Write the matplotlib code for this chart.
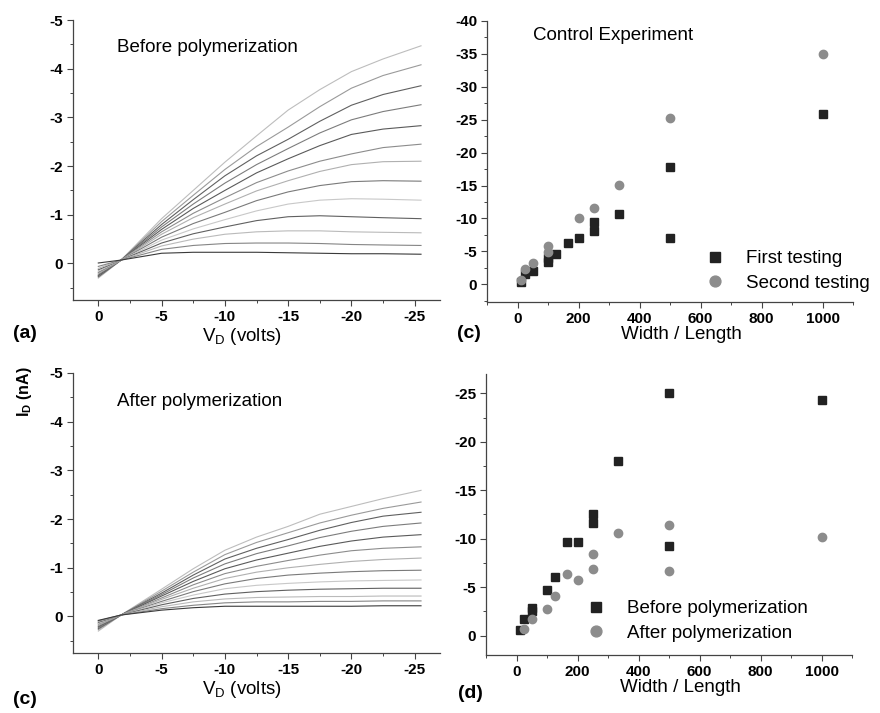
import matplotlib
matplotlib.use("Agg")
import matplotlib.pyplot as plt
from matplotlib.ticker import MultipleLocator

plt.rcParams['font.family'] = ['Liberation Sans', 'DejaVu Sans']
plt.rcParams['font.weight'] = 'bold'
plt.rcParams['axes.unicode_minus'] = False
plt.rcParams['mathtext.fontset'] = 'custom'
plt.rcParams['mathtext.rm'] = 'Liberation Sans'
plt.rcParams['mathtext.default'] = 'regular'

# drain voltage sample points (volts)
vd = [0, -1.8, -5, -7.5, -10, -12.5, -15, -17.5, -20, -22.5, -25.5]

# I_D (nA) output curves, one list per gate voltage
before_curves = [
    [0.30, -0.07, -0.92, -1.50, -2.08, -2.62, -3.15, -3.57, -3.94, -4.20, -4.47],
    [0.28, -0.07, -0.86, -1.40, -1.93, -2.40, -2.80, -3.22, -3.60, -3.86, -4.08],
    [0.27, -0.07, -0.80, -1.31, -1.80, -2.21, -2.55, -2.92, -3.25, -3.47, -3.65],
    [0.25, -0.07, -0.75, -1.22, -1.65, -2.03, -2.36, -2.68, -2.95, -3.12, -3.26],
    [0.24, -0.07, -0.70, -1.13, -1.50, -1.86, -2.15, -2.42, -2.65, -2.76, -2.83],
    [0.22, -0.07, -0.65, -1.03, -1.35, -1.66, -1.90, -2.10, -2.25, -2.38, -2.45],
    [0.20, -0.07, -0.60, -0.94, -1.22, -1.49, -1.70, -1.89, -2.03, -2.09, -2.10],
    [0.18, -0.07, -0.54, -0.82, -1.05, -1.29, -1.47, -1.60, -1.68, -1.70, -1.69],
    [0.16, -0.07, -0.48, -0.71, -0.90, -1.08, -1.22, -1.30, -1.33, -1.32, -1.30],
    [0.13, -0.07, -0.42, -0.61, -0.75, -0.88, -0.96, -0.98, -0.96, -0.94, -0.92],
    [0.10, -0.07, -0.36, -0.50, -0.60, -0.65, -0.67, -0.67, -0.65, -0.64, -0.63],
    [0.06, -0.07, -0.29, -0.37, -0.41, -0.42, -0.42, -0.41, -0.39, -0.38, -0.37],
    [-0.01, -0.07, -0.21, -0.23, -0.23, -0.23, -0.22, -0.21, -0.20, -0.20, -0.19],
]

after_curves = [
    [0.30, -0.03, -0.56, -0.98, -1.36, -1.63, -1.85, -2.10, -2.26, -2.42, -2.59],
    [0.27, -0.03, -0.52, -0.91, -1.27, -1.52, -1.72, -1.92, -2.08, -2.22, -2.35],
    [0.25, -0.03, -0.48, -0.85, -1.18, -1.40, -1.58, -1.77, -1.93, -2.06, -2.14],
    [0.23, -0.03, -0.45, -0.79, -1.08, -1.29, -1.45, -1.62, -1.75, -1.85, -1.92],
    [0.21, -0.03, -0.42, -0.72, -0.98, -1.16, -1.30, -1.44, -1.55, -1.63, -1.68],
    [0.19, -0.03, -0.38, -0.65, -0.88, -1.03, -1.15, -1.26, -1.35, -1.40, -1.43],
    [0.17, -0.03, -0.35, -0.58, -0.78, -0.91, -1.00, -1.07, -1.13, -1.17, -1.20],
    [0.15, -0.03, -0.31, -0.51, -0.67, -0.78, -0.85, -0.89, -0.92, -0.94, -0.95],
    [0.14, -0.03, -0.28, -0.44, -0.57, -0.64, -0.68, -0.71, -0.73, -0.74, -0.75],
    [0.12, -0.03, -0.24, -0.37, -0.46, -0.51, -0.54, -0.56, -0.57, -0.58, -0.58],
    [0.10, -0.03, -0.20, -0.30, -0.36, -0.39, -0.40, -0.41, -0.41, -0.42, -0.42],
    [0.09, -0.03, -0.16, -0.23, -0.28, -0.30, -0.30, -0.31, -0.31, -0.32, -0.32],
    [0.08, -0.03, -0.13, -0.18, -0.21, -0.21, -0.21, -0.21, -0.21, -0.22, -0.22],
]

curve_grays = ['#bdbdbd', '#9a9a9a', '#606060', '#7c7c7c', '#5a5a5a', '#8c8c8c',
               '#b0b0b0', '#7a7a7a', '#c8c8c8', '#606060', '#bababa', '#858585', '#3a3a3a']

# control experiment: I_D (nA) vs width/length
ctrl_first_wl = [10, 25, 50, 100, 100, 125, 167, 200, 250, 250, 333, 500, 500, 1000]
ctrl_first_id = [-0.4, -1.5, -2.0, -3.4, -4.0, -4.6, -6.3, -7.0, -8.1, -9.5, -10.6, -17.8, -7.0, -25.9]
ctrl_second_wl = [10, 25, 50, 100, 100, 200, 250, 333, 500, 1000]
ctrl_second_id = [-0.7, -2.3, -3.2, -4.9, -5.8, -10.0, -11.6, -15.1, -25.3, -35.0]

# before / after polymerization: I_D (nA) vs width/length
poly_before_wl = [10, 25, 50, 50, 100, 125, 167, 200, 250, 250, 333, 500, 500, 1000]
poly_before_id = [-0.6, -1.7, -2.5, -2.9, -4.7, -6.1, -9.7, -9.7, -12.6, -11.6, -18.0, -25.0, -9.3, -24.3]
poly_after_wl = [25, 50, 100, 125, 167, 200, 250, 250, 333, 500, 500, 1000]
poly_after_id = [-0.7, -1.7, -2.7, -4.1, -6.4, -5.7, -8.4, -6.9, -10.6, -11.4, -6.7, -10.2]

W, H = 880, 713
fig = plt.figure(figsize=(W / 100, H / 100), dpi=100)


def px_rect(left, top, right, bottom):
    return [left / W, 1 - bottom / H, (right - left) / W, (bottom - top) / H]


def style_axes(ax, xmaj, xmin, ymaj, ymin):
    for s in ['top', 'right']:
        ax.spines[s].set_visible(False)
    for s in ['left', 'bottom']:
        ax.spines[s].set_color('#444444')
        ax.spines[s].set_linewidth(0.9)
    ax.xaxis.set_major_locator(MultipleLocator(xmaj))
    ax.xaxis.set_minor_locator(MultipleLocator(xmin))
    ax.yaxis.set_major_locator(MultipleLocator(ymaj))
    ax.yaxis.set_minor_locator(MultipleLocator(ymin))
    ax.tick_params(which='major', length=4, width=0.8, color='#444444', labelsize=11, pad=3)
    ax.tick_params(which='minor', length=2.5, width=0.7, color='#444444')


def iv_panel(rect, curves, title):
    ax = fig.add_axes(rect)
    for cur, col in zip(curves, curve_grays):
        ax.plot(vd, cur, color=col, lw=0.8)
    ax.set_xlim(2, -27)
    ax.set_ylim(0.75, -5)
    style_axes(ax, 5, 2.5, 1, 0.5)
    ax.text(0.12, 0.9, title, transform=ax.transAxes, fontsize=13.5, va='center',
            fontweight='normal')
    ax.text(0.46, -0.13, 'V$_D$ (volts)', transform=ax.transAxes, fontsize=13.5,
            ha='center', va='center', fontweight='normal')
    return ax


def wl_panel(rect, ylim, ymaj, xs1, ys1, xs2, ys2, labels, leg_anchor):
    ax = fig.add_axes(rect)
    ax.plot(xs1, ys1, 's', color='#222222', ms=5.5, label=labels[0])
    ax.plot(xs2, ys2, 'o', color='#8c8c8c', ms=6, label=labels[1])
    ax.set_xlim(-100, 1100)
    ax.set_ylim(*ylim)
    style_axes(ax, 200, 100, ymaj, ymaj / 2)
    ax.legend(loc='upper left', bbox_to_anchor=leg_anchor, bbox_transform=fig.transFigure,
              frameon=False, prop={'size': 13.5, 'weight': 'normal'}, handlelength=1.0,
              handletextpad=1.15, borderpad=0, borderaxespad=0, labelspacing=0.4,
              markerscale=1.3)
    ax.text(0.53, -0.115, 'Width / Length', transform=ax.transAxes, fontsize=13.5,
            ha='center', va='center', fontweight='normal')
    return ax


iv_panel(px_rect(73, 20, 440, 300), before_curves, 'Before polymerization')
iv_panel(px_rect(73, 373, 440, 653), after_curves, 'After polymerization')

ax_c = wl_panel(px_rect(487, 21, 853, 302), (2.7, -40), 5,
                ctrl_first_wl, ctrl_first_id, ctrl_second_wl, ctrl_second_id,
                ['First testing', 'Second testing'], (706 / W, 1 - 250 / H))
ax_c.text(0.125, 0.95, 'Control Experiment', transform=ax_c.transAxes, fontsize=13.5,
          va='center', fontweight='normal')

wl_panel(px_rect(486, 374, 852, 655), (2, -27), 5,
         poly_before_wl, poly_before_id, poly_after_wl, poly_after_id,
         ['Before polymerization', 'After polymerization'], (587 / W, 1 - 600 / H))

fig.text(25 / W, 1 - 392 / H, 'I$_D$ (nA)', rotation=90, fontsize=11.5, fontweight='bold',
         ha='center', va='center')

for lab, x, y in [('(a)', 25, 334), ('(c)', 469, 334), ('(c)', 25, 699), ('(d)', 470, 693)]:
    fig.text(x / W, 1 - y / H, lab, fontsize=14, fontweight='bold', ha='center', va='center')

fig.savefig('out.png', dpi=100)
